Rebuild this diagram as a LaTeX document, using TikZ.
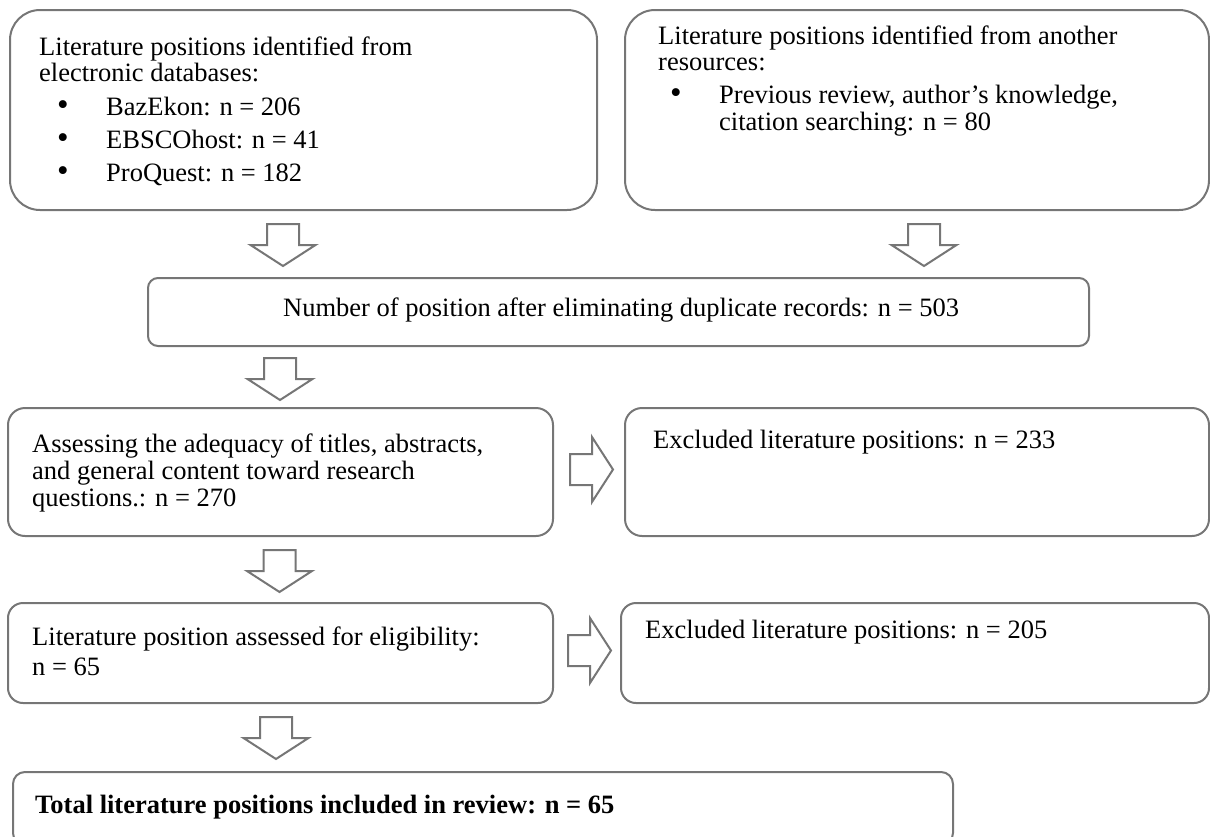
\documentclass[tikz,border=0pt]{standalone}
\usepackage{fontspec}
\setmainfont{Liberation Serif}
\usetikzlibrary{calc}
\definecolor{boxgray}{RGB}{118,118,118}
\newcommand{\dnarrow}[3]{%
  \coordinate (tmpx) at (#1,0);
  \draw[blockarrow] ($(tmpx |- #2.south)+(0,#3)$) ++(-16,0) -- ++(32,0) -- ++(0,21) -- ++(16.5,0) -- ++(-32.5,21) -- ++(-32.5,-21) -- ++(16.5,0) -- cycle;}
\newcommand{\rtarrow}[3]{%
  \coordinate (tmpy) at (0,#1);
  \draw[blockarrow] ($(#2.east |- tmpy)+(#3,0)$) ++(0,-15.5) -- ++(22,0) -- ++(0,-17) -- ++(21,32.5) -- ++(-21,32.5) -- ++(0,-17) -- ++(-22,0) -- cycle;}
\begin{document}
\begin{tikzpicture}[x=1pt,y=-1pt,
  box/.style={draw=boxgray, line width=2pt, inner sep=0pt, outer sep=0pt, anchor=north west},
  txt/.style={anchor=base west, inner sep=0pt, font=\fontsize{26.5}{27}\selectfont},
  bul/.style={anchor=base, inner sep=0pt, font=\fontsize{33}{33}\selectfont},
  blockarrow/.style={draw=boxgray, line width=2pt, fill=white, line join=miter}]
\useasboundingbox (0,0) rectangle (1210,836);
% boxes
\node[box, rounded corners=30pt, minimum width=587pt, minimum height=200pt] (b1) at (10,10) {};
\node[box, rounded corners=30pt, minimum width=584pt, minimum height=200pt] (b2) at (625,10) {};
\node[box, rounded corners=10pt, minimum width=941pt, minimum height=68pt] (b3) at (148,278) {};
\node[box, rounded corners=17pt, minimum width=545pt, minimum height=128pt] (b4) at (8,408) {};
\node[box, rounded corners=17pt, minimum width=584pt, minimum height=128pt] (b5) at (625,408) {};
\node[box, rounded corners=15pt, minimum width=545pt, minimum height=100pt] (b6) at (8,603) {};
\node[box, rounded corners=15pt, minimum width=588pt, minimum height=100pt] (b7) at (621,603) {};
\node[box, rounded corners=12pt, minimum width=940pt, minimum height=73pt] (b8) at (13,772) {};
% texts
\node[txt] (t1a) at (39,55) {Literature positions identified from};
\node[txt] (t1b) at (39,81) {electronic databases:};
\node[bul] (u1) at (63,115) {•};
\node[txt] (t1c) at (106,115) {BazEkon: n = 206};
\node[bul] (u2) at (63,148) {•};
\node[txt] (t1d) at (106,148) {EBSCOhost: n = 41};
\node[bul] (u3) at (63,181) {•};
\node[txt] (t1e) at (106,181) {ProQuest: n = 182};
\node[txt] (t2a) at (658,44) {Literature positions identified from another};
\node[txt] (t2b) at (658,70) {resources:};
\node[bul] (u4) at (676,103) {•};
\node[txt] (t2c) at (719,103) {Previous review, author’s knowledge,};
\node[txt] (t2d) at (719,130) {citation searching: n = 80};
\node[txt] (t3) at (283,316) {Number of position after eliminating duplicate records: n = 503};
\node[txt] (t4a) at (32,452) {Assessing the adequacy of titles, abstracts,};
\node[txt] (t4b) at (32,479) {and general content toward research};
\node[txt] (t4c) at (32,506) {questions.: n = 270};
\node[txt] (t5) at (653,448) {Excluded literature positions: n = 233};
\node[txt] (t6a) at (32,645) {Literature position assessed for eligibility:};
\node[txt] (t6b) at (32,675) {n = 65};
\node[txt] (t7) at (645,638) {Excluded literature positions: n = 205};
\node[txt, font=\fontsize{26.5}{27}\selectfont\bfseries] (t8) at (35,813) {Total literature positions included in review: n = 65};
% block arrows
\dnarrow{283}{b1}{14}
\dnarrow{924}{b2}{14}
\dnarrow{280}{b3}{12}
\dnarrow{279.5}{b4}{14}
\dnarrow{276}{b6}{14}
\rtarrow{469.5}{b4}{17}
\rtarrow{650.5}{b6}{15}
\end{tikzpicture}
\end{document}
